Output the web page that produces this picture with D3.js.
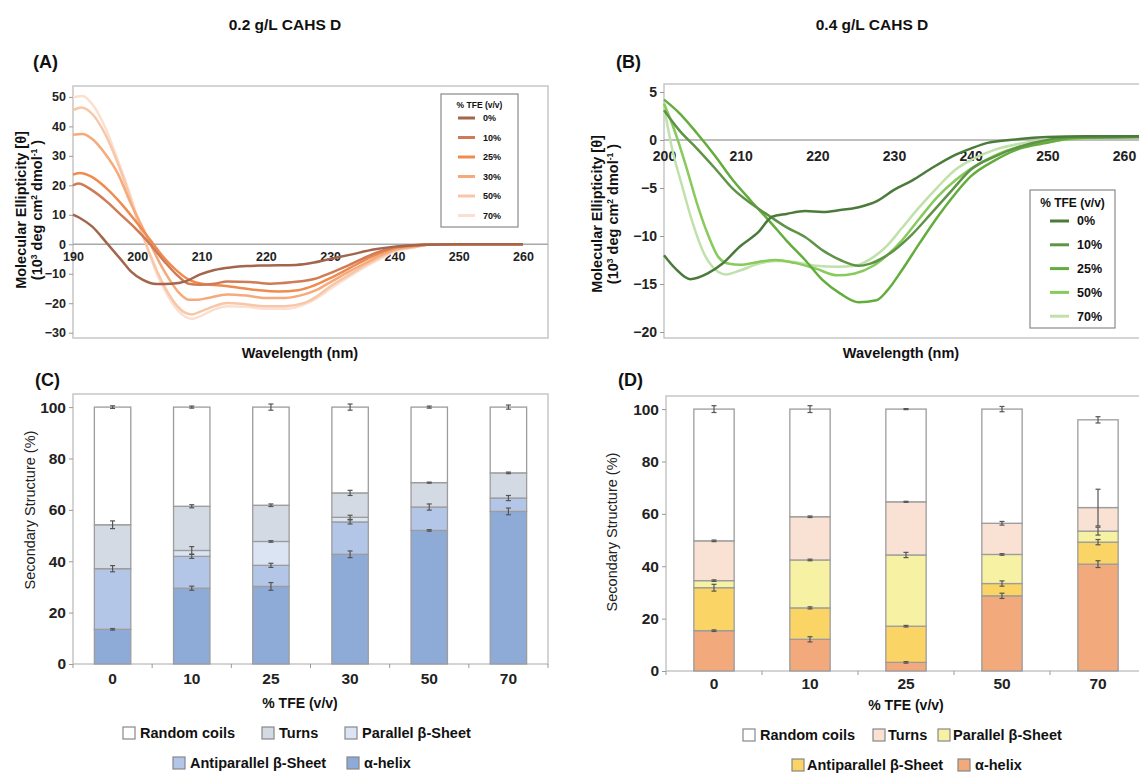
<!DOCTYPE html>
<html>
<head>
<meta charset="utf-8">
<script src="https://cdn.jsdelivr.net/npm/d3@7"></script>
<style>
body { margin: 0; background: #fff; }
svg text { font-family: "Liberation Sans", Arial, Helvetica, sans-serif; fill: #111; }
</style>
</head>
<body>
<svg id="fig" width="1139" height="773"></svg>
<script>
// ---- CD spectra, 0.2 g/L (wavelength nm, ellipticity 10^3 deg cm2 dmol-1)
var specA_0 = [[190,10.1],[191,9],[193,6],[195.3,0.3],[197.5,-5.3],[199,-9.2],[200.8,-12],[203,-13.5],[205.3,-13.4],[207.5,-12.6],[209.7,-10.3],[212,-8.7],[214.7,-7.8],[217,-7.4],[220,-7.2],[224.7,-7],[227.5,-6.2],[230,-5],[233,-3.6],[237,-1.7],[240,-0.8],[245,-0.2],[250,0],[260,0]];
var specA_10 = [[190,20],[190.8,20.6],[193,18.3],[195.3,14.4],[197.5,9.9],[199.7,5.4],[201.9,0.3],[204.2,-5.8],[206.4,-10.9],[208,-13.4],[209.7,-13.7],[212,-13.4],[214,-12.6],[217.5,-12.8],[220.8,-13.4],[224,-12.9],[227.5,-11.8],[230,-9.8],[233,-7],[237,-3],[240,-1],[242.5,-0.4],[247,0],[260,0]];
var specA_25 = [[190,23.6],[191,24.2],[193,22.8],[195,19.4],[197.5,13.8],[200,7.1],[202,1.5],[204,-4.2],[206,-8.7],[208,-12],[210,-13.4],[213,-14],[216,-14.8],[219,-15.6],[222,-16],[225,-15.6],[227.5,-14],[230,-11.5],[233,-8.1],[236,-4.7],[238,-2.8],[240,-1.3],[243,-0.5],[246,0],[260,0]];
var specA_30 = [[190,37.2],[191.5,37.4],[193,35.7],[195,30.7],[197,23.9],[199,13.8],[200.5,7.1],[202,0.3],[203.5,-6.4],[205,-12],[206.5,-16.5],[208,-18.8],[209.5,-18.8],[211,-18.2],[214,-17],[217,-17.4],[220,-18.2],[223,-18.2],[226,-17],[228,-15.4],[230,-12.9],[233,-9.2],[236,-5.8],[238,-3.6],[240,-1.9],[243,-0.8],[246,0],[260,0]];
var specA_50 = [[190,45.5],[191.3,46.4],[193,44.2],[195,37.4],[197,27.3],[198.5,18.3],[200,8.2],[201.5,-0.8],[203,-8.7],[204.5,-15.4],[206,-20.4],[207.5,-23.3],[208.5,-23.8],[210,-22.7],[212,-21],[214,-19.9],[217,-20.4],[220,-21],[223,-21],[226,-19.9],[228,-17.6],[230,-14.3],[233,-10.3],[236,-6.4],[238,-4.2],[240,-2.1],[243,-1],[246,0],[260,0]];
var specA_70 = [[190,49.8],[191.5,50.3],[193,47.5],[195,39.7],[197,28.4],[198.5,19.4],[200,9.3],[201.5,-0.8],[203,-9.8],[204.5,-16.5],[206,-21.6],[207.5,-24.6],[208.5,-25.3],[210,-24.2],[212,-22.1],[214,-21],[217,-21.2],[220,-21.9],[223,-21.9],[226,-20.4],[228,-18.2],[230,-15.2],[233,-10.9],[236,-7],[238,-4.7],[240,-2.5],[243,-1.1],[246,0],[260,0]];

// ---- CD spectra, 0.4 g/L
var specB_0 = [[200,-12],[201.5,-13.4],[203.4,-14.5],[205.7,-13.9],[207.6,-12.9],[209.9,-11.1],[212.3,-9.6],[214.1,-8],[216,-7.7],[218.4,-7.4],[220.7,-7.5],[223,-7.3],[225.4,-7],[227.7,-6.4],[230,-5.2],[232.4,-4.2],[234.8,-3],[237.6,-1.7],[240,-0.9],[242.2,-0.3],[246.4,0.1],[250,0.3],[255,0.4],[262,0.4]];
var specB_10 = [[200,3.1],[202,1],[204.3,-0.9],[206.7,-3],[209,-5.1],[211.3,-6.6],[213.7,-7.9],[216,-9.1],[218.4,-10.1],[220.7,-11.5],[223,-12.5],[225.4,-13.1],[226.8,-12.9],[228.7,-12.2],[230,-11.5],[232.4,-9.8],[234.8,-7.7],[237.6,-5.2],[240,-3.1],[243.2,-1.7],[246.4,-0.7],[250,0],[253.5,0.3],[262,0.3]];
var specB_25 = [[200,4.2],[202,2.8],[204.3,0.7],[206.7,-1.7],[209,-4.2],[211.3,-6.3],[213.7,-8.4],[216,-10.5],[218.4,-12.5],[220.7,-14.6],[223,-16],[225.4,-16.9],[227.7,-16.7],[229.1,-15.7],[231,-13.6],[233.3,-10.8],[235.7,-8],[238,-5.6],[240,-3.8],[243.2,-2.1],[246.4,-0.9],[250,-0.3],[253.5,0.2],[262,0.3]];
var specB_50 = [[200,3.8],[201.5,0.7],[202.9,-2.8],[204.3,-6.6],[205.7,-9.8],[207.1,-12.2],[208.5,-12.9],[209.9,-13],[212.3,-12.7],[214.6,-12.5],[217,-12.8],[219.8,-13.4],[222.6,-14.1],[224.9,-13.9],[227.3,-13.1],[229.1,-12],[231,-10.5],[233.3,-8.2],[235.7,-5.9],[238,-4.2],[240,-3],[243.2,-1.6],[246.4,-0.7],[250,-0.2],[255,0.2],[262,0.3]];
var specB_70 = [[200,3.5],[201,-0.7],[202.4,-4.9],[203.8,-8.8],[205.2,-11.8],[206.7,-13.5],[208.1,-14],[209.9,-13.6],[212.3,-12.9],[214.6,-12.6],[217,-12.7],[219.8,-13.1],[222.6,-13.2],[224.9,-13.1],[227.3,-12.2],[229.1,-11],[231,-9.2],[233.3,-7],[235.7,-4.9],[238,-3.1],[240,-2.1],[243.2,-1],[246.4,-0.4],[250,0],[255,0.2],[262,0.3]];

var tfeA = ["0%", "10%", "25%", "30%", "50%", "70%"];
var tfeB = ["0%", "10%", "25%", "50%", "70%"];

// ---- secondary structure, 0.2 g/L (%)
var catsC = ["0", "10", "25", "30", "50", "70"];
var helixC = [13.5, 29.5, 30.2, 42.7, 52.0, 59.4];
var antiC = [23.6, 12.4, 8.2, 12.6, 9.1, 5.2];
var parC = [0, 2.3, 9.3, 1.8, 0, 0];
var turnsC = [17.1, 17.2, 14.1, 9.5, 9.5, 9.8];
var coilC = [45.8, 38.6, 38.2, 33.4, 29.4, 25.6];
var helixErrC = [0.3, 0.8, 1.5, 1.3, 0.3, 1.3];
var antiErrC = [1.2, 0.8, 0.8, 0.8, 1.2, 1.0];
var parErrC = [0, 1.5, 0.3, 0.8, 0, 0];
var turnsErrC = [1.5, 0.6, 0.5, 1.0, 0.2, 0.3];
var coilErrC = [0.5, 0.4, 1.2, 1.2, 0.4, 0.8];

// ---- secondary structure, 0.4 g/L (%)
var catsD = ["0", "10", "25", "50", "70"];
var helixD = [15.4, 12.1, 3.3, 28.7, 40.8];
var antiD = [16.4, 12.0, 13.8, 4.7, 8.4];
var parD = [2.7, 18.3, 27.2, 11.1, 4.2];
var turnsD = [15.2, 16.5, 20.3, 11.9, 9.0];
var coilD = [50.3, 41.1, 35.4, 43.6, 33.5];
var helixErrD = [0.3, 1.0, 0.3, 1.0, 1.3];
var antiErrD = [1.3, 0.4, 0.3, 1.0, 1.0];
var parErrD = [0.3, 0.3, 1.0, 0.3, 1.5];
var turnsErrD = [0.3, 0.3, 0.2, 0.7, 7.0];
var coilErrD = [1.3, 1.3, 0.2, 1.0, 1.2];

var structNames = ["Random coils", "Turns", "Parallel β-Sheet", "Antiparallel β-Sheet", "α-helix"];

var svg = d3.select("#fig");

function bold(sel, size) {
    return sel.style("font-size", size + "px").style("font-weight", "bold");
}

function yTitle(x, cy, size) {
    // two line rotated ellipticity title
    var t1 = svg.append("text").attr("transform", "translate(" + x + "," + cy + ") rotate(-90)")
        .attr("text-anchor", "middle").text("Molecular Ellipticity [θ]");
    bold(t1, size);
    var t2 = svg.append("text").attr("transform", "translate(" + (x + 16) + "," + cy + ") rotate(-90)")
        .attr("text-anchor", "middle");
    bold(t2, size);
    t2.append("tspan").text("(10");
    t2.append("tspan").attr("dy", -5).style("font-size", "8.5px").text("3");
    t2.append("tspan").attr("dy", 5).text(" deg cm");
    t2.append("tspan").attr("dy", -5).style("font-size", "8.5px").text("2");
    t2.append("tspan").attr("dy", 5).text(" dmol");
    t2.append("tspan").attr("dy", -5).style("font-size", "8.5px").text("-1");
    t2.append("tspan").attr("dy", 5).text(" )");
}

function curvePanel(o) {
    var x = d3.scaleLinear().domain(o.xDomain).range([o.left, o.right]);
    var y = d3.scaleLinear().domain(o.yDomain).range([o.bottom, o.top]);
    var g = svg.append("g");

    g.append("rect").attr("x", o.left).attr("y", o.top)
        .attr("width", o.boxRight - o.left).attr("height", o.bottom - o.top)
        .attr("fill", "none").attr("stroke", "#c6c6c6").attr("stroke-width", 1.5);

    var ya = g.append("g").attr("transform", "translate(" + o.left + ",0)")
        .call(d3.axisLeft(y).tickValues(o.yTicks).tickSize(4).tickPadding(3));
    ya.select(".domain").remove();
    ya.selectAll("line").attr("stroke", "#999");
    bold(ya.selectAll("text"), o.tickFont).style("fill", "#222");

    g.append("line").attr("x1", o.left).attr("x2", o.boxRight)
        .attr("y1", y(0)).attr("y2", y(0)).attr("stroke", "#a8a8a8").attr("stroke-width", 1.5);

    var xa = g.append("g").attr("transform", "translate(0," + y(0) + ")")
        .call(d3.axisBottom(x).tickValues(o.xTicks).tickSize(0).tickPadding(o.xPad));
    xa.select(".domain").remove();
    bold(xa.selectAll("text"), o.tickFont).style("fill", "#222");

    var line = d3.line().x(d => x(d[0])).y(d => y(d[1])).curve(d3.curveMonotoneX);
    var lines = g.append("g");
    for (var i = o.series.length - 1; i >= 0; i--) {
        lines.append("path").attr("d", line(o.series[i]))
            .attr("fill", "none").attr("stroke", o.colors[i]).attr("stroke-width", 2.5);
    }

    // legend
    var lg = o.legend;
    g.append("rect").attr("x", lg.x).attr("y", lg.y).attr("width", lg.w).attr("height", lg.h)
        .attr("fill", "#fff").attr("stroke", "#8a8a8a").attr("stroke-width", 1.2);
    bold(g.append("text").attr("x", lg.x + lg.w / 2).attr("y", lg.titleY)
        .attr("text-anchor", "middle").text("% TFE (v/v)"), lg.font - 0.5);
    o.labels.forEach(function (lab, i) {
        var yy = lg.firstY + i * lg.step;
        g.append("line").attr("x1", lg.lineX).attr("x2", lg.lineX + lg.lineW)
            .attr("y1", yy).attr("y2", yy).attr("stroke", o.colors[i]).attr("stroke-width", 3);
        bold(g.append("text").attr("x", lg.textX).attr("y", yy).attr("dy", "0.35em").text(lab), lg.font);
    });

    yTitle(o.yTitleX, o.yTitleY, 14.5);
    bold(svg.append("text").attr("x", o.xTitleX).attr("y", o.xTitleY)
        .attr("text-anchor", "middle").text("Wavelength (nm)"), 14.5);
}

function barPanel(o) {
    var keys = ["helix", "anti", "par", "turns", "coil"];
    var rows = o.cats.map(function (c, i) {
        return { cat: c, helix: o.vals[0][i], anti: o.vals[1][i], par: o.vals[2][i], turns: o.vals[3][i], coil: o.vals[4][i] };
    });
    var layers = d3.stack().keys(keys)(rows);

    var x = d3.scaleBand().domain(o.cats).range([o.left, o.bandRight])
        .paddingInner(o.padIn).paddingOuter(o.padIn / 2);
    var y = d3.scaleLinear().domain([0, o.yMax]).range([o.bottom, o.top]);
    var g = svg.append("g");

    g.append("rect").attr("x", o.left).attr("y", o.top)
        .attr("width", o.bandRight - o.left).attr("height", o.bottom - o.top)
        .attr("fill", "none").attr("stroke", "#c6c6c6").attr("stroke-width", 1.5);

    var ya = g.append("g").attr("transform", "translate(" + o.left + ",0)")
        .call(d3.axisLeft(y).tickValues([0, 20, 40, 60, 80, 100]).tickSize(4).tickPadding(3));
    ya.select(".domain").remove();
    ya.selectAll("line").attr("stroke", "#999");
    bold(ya.selectAll("text"), 15.5).style("fill", "#222");

    // ticks between groups
    var gap = (x.step() - x.bandwidth()) / 2;
    var edges = o.cats.map(c => x(c) - gap).concat([x(o.cats[o.cats.length - 1]) + x.bandwidth() + gap]);
    g.selectAll(".edge").data(edges).enter().append("line")
        .attr("x1", d => d).attr("x2", d => d).attr("y1", o.bottom).attr("y2", o.bottom + 4)
        .attr("stroke", "#999");
    g.selectAll(".xl").data(o.cats).enter().append("text")
        .attr("x", d => x(d) + x.bandwidth() / 2).attr("y", o.xLabelY)
        .attr("text-anchor", "middle").text(d => d)
        .style("font-size", "15.5px").style("font-weight", "bold").style("fill", "#222");

    layers.forEach(function (layer, k) {
        g.selectAll(null).data(layer).enter().append("rect")
            .attr("x", d => x(d.data.cat)).attr("width", x.bandwidth())
            .attr("y", d => y(d[1])).attr("height", d => y(d[0]) - y(d[1]))
            .attr("fill", o.colors[k]).attr("stroke", "#9c9c9c").attr("stroke-width", 1.3);
    });
    layers.forEach(function (layer, k) {
        layer.forEach(function (d, i) {
            var e = o.errs[k][i];
            if (!e) return;
            var cx = x(d.data.cat) + x.bandwidth() / 2;
            var y1 = y(d[1] + e), y2 = y(d[1] - e);
            var eg = g.append("g").attr("stroke", "#555").attr("stroke-width", 1.2);
            eg.append("line").attr("x1", cx).attr("x2", cx).attr("y1", y1).attr("y2", y2);
            eg.append("line").attr("x1", cx - 2.5).attr("x2", cx + 2.5).attr("y1", y1).attr("y2", y1);
            eg.append("line").attr("x1", cx - 2.5).attr("x2", cx + 2.5).attr("y1", y2).attr("y2", y2);
        });
    });

    svg.append("text").attr("transform", "translate(" + o.yTitleX + "," + o.yTitleY + ") rotate(-90)")
        .attr("text-anchor", "middle").text("Secondary Structure (%)")
        .style("font-size", "14.5px").style("fill", "#222");
    bold(svg.append("text").attr("x", o.xTitleX).attr("y", o.xTitleY)
        .attr("text-anchor", "middle").text("% TFE (v/v)"), 14);

    // legend (top row: coil, turns, parallel; bottom row: antiparallel, helix)
    var order = [4, 3, 2, 1, 0];
    o.legend.forEach(function (it, j) {
        var k = order[j];
        g.append("rect").attr("x", it[0]).attr("y", it[2] - 6).attr("width", 12).attr("height", 12)
            .attr("fill", o.colors[k]).attr("stroke", "#888").attr("stroke-width", 1.2);
        bold(g.append("text").attr("x", it[1]).attr("y", it[2]).attr("dy", "0.35em").text(structNames[j]), 14.5);
    });
}

// titles and panel letters
bold(svg.append("text").attr("x", 285).attr("y", 30).attr("text-anchor", "middle").text("0.2 g/L CAHS D"), 15.5);
bold(svg.append("text").attr("x", 872).attr("y", 30).attr("text-anchor", "middle").text("0.4 g/L CAHS D"), 15.5);
bold(svg.append("text").attr("x", 33).attr("y", 68).text("(A)"), 18);
bold(svg.append("text").attr("x", 616).attr("y", 68).text("(B)"), 18);
bold(svg.append("text").attr("x", 35).attr("y", 386).text("(C)"), 18);
bold(svg.append("text").attr("x", 618).attr("y", 386).text("(D)"), 18);

curvePanel({
    left: 73, right: 523, boxRight: 548, top: 86, bottom: 338,
    xDomain: [190, 260], yDomain: [-31.8, 53.7],
    xTicks: [190, 200, 210, 220, 230, 240, 250, 260], yTicks: [-30, -20, -10, 0, 10, 20, 30, 40, 50],
    tickFont: 12.5, xPad: 8,
    series: [specA_0, specA_10, specA_25, specA_30, specA_50, specA_70],
    colors: ["#a3664c", "#cf7c56", "#f08b4f", "#f6aa7c", "#f8c6a8", "#fbdfcf"],
    labels: tfeA,
    legend: { x: 441, y: 94, w: 77, h: 133, titleY: 108, firstY: 118, step: 19.5, lineX: 458, lineW: 17, textX: 483, font: 9 },
    yTitleX: 26, yTitleY: 210, xTitleX: 300, xTitleY: 358
});

curvePanel({
    left: 664, right: 1124, boxRight: 1146, top: 84, bottom: 338,
    xDomain: [200, 260], yDomain: [-20.625, 5.83],
    xTicks: [200, 210, 220, 230, 240, 250, 260], yTicks: [-20, -15, -10, -5, 0, 5],
    tickFont: 14, xPad: 11,
    series: [specB_0, specB_10, specB_25, specB_50, specB_70],
    colors: ["#4b7b3b", "#5f9447", "#63ad3d", "#88ca5c", "#c0e1aa"],
    labels: tfeB,
    legend: { x: 1030, y: 190, w: 85, h: 138, titleY: 207, firstY: 221, step: 23.8, lineX: 1050, lineW: 19, textX: 1077, font: 12.5 },
    yTitleX: 602, yTitleY: 214, xTitleX: 901, xTitleY: 358
});

barPanel({
    cats: catsC, left: 73, bandRight: 548, top: 394, bottom: 664, yMax: 105.1, padIn: 0.54,
    vals: [helixC, antiC, parC, turnsC, coilC],
    errs: [helixErrC, antiErrC, parErrC, turnsErrC, coilErrC],
    colors: ["#8eaad6", "#b3c6e7", "#dbe4f3", "#d4dae4", "#ffffff"],
    xLabelY: 684, yTitleX: 35, yTitleY: 510, xTitleX: 300, xTitleY: 708,
    legend: [[123, 140, 733], [262, 279, 733], [345, 362, 733], [173, 190, 763], [347, 364, 763]]
});

barPanel({
    cats: catsD, left: 666, bandRight: 1146, top: 396, bottom: 671, yMax: 105, padIn: 0.58,
    vals: [helixD, antiD, parD, turnsD, coilD],
    errs: [helixErrD, antiErrD, parErrD, turnsErrD, coilErrD],
    colors: ["#f2aa7c", "#fbd466", "#f7f2a3", "#f9e1d4", "#ffffff"],
    xLabelY: 689, yTitleX: 617, yTitleY: 532, xTitleX: 906, xTitleY: 710,
    legend: [[743, 760, 735], [873, 888, 735], [938, 953, 735], [792, 807, 765], [958, 975, 765]]
});
</script>
</body>
</html>
